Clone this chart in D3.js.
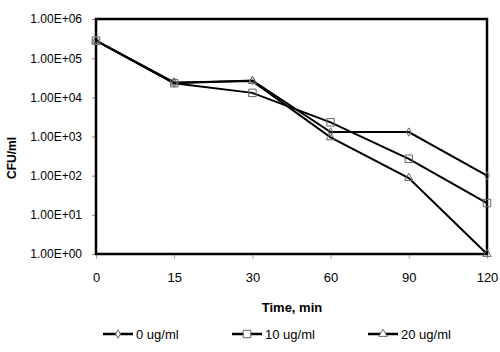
<!DOCTYPE html>
<html>
<head>
<meta charset="utf-8">
<script src="https://cdn.jsdelivr.net/npm/d3@7"></script>
<style>
  body { margin: 0; background: #fff; }
  svg { font-family: "Liberation Sans", Arial, sans-serif; }
</style>
</head>
<body>
<div id="chart"></div>
<script>
// time points (min) - plotted as equally spaced categories
const times = ["0", "15", "30", "60", "90", "120"]
const yTicks = [1, 10, 100, 1000, 10000, 100000, 1000000]

const conc0 = [2.8e5, 2.3e4, 2.7e4, 1.3e3, 1.3e3, 100]
const conc10 = [2.8e5, 2.3e4, 1.3e4, 2.3e3, 270, 20]
const conc20 = [2.8e5, 2.4e4, 2.6e4, 950, 87, 1]

const seriesNames = ["0 ug/ml", "10 ug/ml", "20 ug/ml"]
const seriesShapes = ["diamond", "square", "triangle"]

const width = 500
const height = 352
const plotLeft = 96, plotRight = 487, plotTop = 19, plotBottom = 254

const svg = d3.select("#chart").append("svg")
  .attr("width", width)
  .attr("height", height)

const x = d3.scalePoint()
  .domain(times)
  .range([plotLeft, plotRight])

const y = d3.scaleLog()
  .domain([1, 1e6])
  .range([plotBottom, plotTop])

const sciFormat = d => {
  const exp = Math.round(Math.log10(d))
  return (d / Math.pow(10, exp)).toFixed(2) + "E+" + String(exp).padStart(2, "0")
}

// y axis
const yAxis = svg.append("g")
  .attr("transform", `translate(${plotLeft},0)`)
  .call(d3.axisLeft(y).tickValues(yTicks).tickSize(4).tickPadding(10).tickFormat(sciFormat))
yAxis.select(".domain").remove()
yAxis.selectAll("line").attr("stroke", "#888")
yAxis.selectAll("text").attr("font-size", 12).attr("fill", "#000")

// x axis
const xAxis = svg.append("g")
  .attr("transform", `translate(0,${plotBottom})`)
  .call(d3.axisBottom(x).tickSize(5).tickPadding(14))
xAxis.select(".domain").remove()
xAxis.selectAll("line").attr("stroke", "#aaa")
xAxis.selectAll("text").attr("font-size", 13).attr("fill", "#000")

// plot border
svg.append("rect")
  .attr("x", plotLeft)
  .attr("y", plotTop)
  .attr("width", plotRight - plotLeft)
  .attr("height", plotBottom - plotTop)
  .attr("fill", "none")
  .attr("stroke", "#000")
  .attr("stroke-width", 2.5)

// axis titles
svg.append("text")
  .attr("x", 292)
  .attr("y", 312)
  .attr("text-anchor", "middle")
  .attr("font-size", 13)
  .attr("font-weight", "bold")
  .text("Time, min")

svg.append("text")
  .attr("transform", "translate(16,158) rotate(-90)")
  .attr("text-anchor", "middle")
  .attr("font-size", 12)
  .attr("font-weight", "bold")
  .text("CFU/ml")

const symbolFor = {
  diamond: d3.symbol().type(d3.symbolDiamond).size(20),
  square: d3.symbol().type(d3.symbolSquare).size(56),
  triangle: d3.symbol().type(d3.symbolTriangle).size(30)
}

const allSeries = [conc0, conc10, conc20]

const line = d3.line()
  .x((d, i) => x(times[i]))
  .y(d => y(d))

allSeries.forEach((vals, s) => {
  svg.append("path")
    .attr("d", line(vals))
    .attr("fill", "none")
    .attr("stroke", "#000")
    .attr("stroke-width", 2)
})

allSeries.forEach((vals, s) => {
  svg.selectAll(null)
    .data(vals)
    .enter()
    .append("path")
      .attr("d", symbolFor[seriesShapes[s]])
      .attr("transform", (d, i) => `translate(${x(times[i])},${y(d)})`)
      .attr("fill", "none")
      .attr("stroke", "#666")
      .attr("stroke-width", 1)
})

// legend
const legendX = [103, 232, 368]
const legend = svg.append("g")
seriesNames.forEach((name, s) => {
  const g = legend.append("g").attr("transform", `translate(${legendX[s]},334)`)
  g.append("line")
    .attr("x1", 0).attr("x2", 30)
    .attr("stroke", "#000").attr("stroke-width", 2.5)
  g.append("path")
    .attr("d", symbolFor[seriesShapes[s]])
    .attr("transform", "translate(15,0)")
    .attr("fill", "#fff")
    .attr("stroke", "#666")
  g.append("text")
    .attr("x", 33)
    .attr("y", 4.5)
    .attr("font-size", 13)
    .text(name)
})
</script>
</body>
</html>
